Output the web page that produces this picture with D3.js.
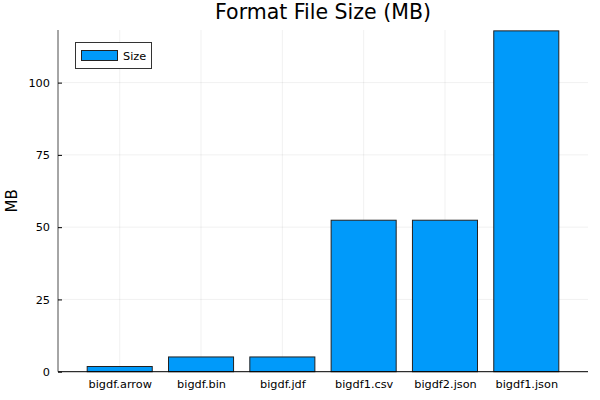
<!DOCTYPE html>
<html><head><meta charset="utf-8">
<script src="https://cdn.jsdelivr.net/npm/d3@7"></script>
<style>body{margin:0;background:#fff}svg{display:block}text{font-family:"DejaVu Sans",sans-serif}</style>
</head><body><svg id="c" width="600" height="400"></svg>
<script>
const categories = ["bigdf.arrow","bigdf.bin","bigdf.jdf","bigdf1.csv","bigdf2.json","bigdf1.json"];
const sizes = [1.8, 5.1, 5.1, 52.4, 52.4, 117.9];
const yTicks = [0, 25, 50, 75, 100];
const seriesName = "Size";
const title = "Format File Size (MB)";
const yLabel = "MB";

const svg = d3.select("#c");
const L = 58, R = 588, T = 30, B = 371.7;
const x = d3.scaleLinear().domain([0.241, 6.759]).range([L, R]);
const y = d3.scaleLinear().domain([0, 118.2]).range([B, T]);
const barW = 0.8;

// grid
const g = svg.append("g");
g.selectAll(".vg").data(categories).enter().append("line")
  .attr("x1",(d,i)=>x(i+1)).attr("x2",(d,i)=>x(i+1)).attr("y1",T).attr("y2",B)
  .attr("stroke","#000").attr("stroke-opacity",0.1).attr("stroke-width",0.6);
g.selectAll(".hg").data(yTicks).enter().append("line")
  .attr("x1",L).attr("x2",R).attr("y1",d=>y(d)).attr("y2",d=>y(d))
  .attr("stroke","#000").attr("stroke-opacity",0.1).attr("stroke-width",0.6);

// bars
svg.append("g").selectAll("rect").data(sizes).enter().append("rect")
  .attr("x",(d,i)=>x(i+1-barW/2)).attr("width",(d,i)=>x(i+1+barW/2)-x(i+1-barW/2))
  .attr("y",d=>y(d)).attr("height",d=>y(0)-y(d))
  .attr("fill","#009afa").attr("stroke","#222").attr("stroke-width",1);

// axes
const yAxis = d3.axisLeft(y).tickValues(yTicks).tickSize(-4).tickPadding(8);
const ya = svg.append("g").attr("transform",`translate(${L},0)`).call(yAxis);
ya.select(".domain").attr("stroke","#000").attr("stroke-opacity",0.7).attr("d",`M0,${T}V${B}`);
ya.selectAll(".tick line").attr("stroke","#000");
ya.selectAll("text").attr("font-size",11.3).attr("fill","#000").attr("font-family","DejaVu Sans");

const xAxis = d3.axisBottom(x).tickValues(categories.map((d,i)=>i+1)).tickFormat((d)=>categories[d-1]).tickSize(0).tickPadding(8);
const xa = svg.append("g").attr("transform",`translate(0,${B})`).call(xAxis);
xa.select(".domain").attr("stroke","#000").attr("d",`M${L},0H${R}`);
xa.selectAll("text").attr("font-size",11.3).attr("fill","#000").attr("font-family","DejaVu Sans");

// title
svg.append("text").attr("x",(L+R)/2).attr("y",19).attr("text-anchor","middle")
  .attr("font-size",20.5).attr("fill","#000").text(title);
// y label
svg.append("text").attr("transform",`translate(17,${(T+B)/2}) rotate(-90)`).attr("text-anchor","middle")
  .attr("font-size",15).attr("fill","#000").text(yLabel);

// legend
const lg = svg.append("g");
lg.append("rect").attr("x",75.5).attr("y",42.5).attr("width",76).attr("height",26)
  .attr("fill","#fff").attr("stroke","#000").attr("stroke-opacity",0.8);
lg.append("rect").attr("x",81.5).attr("y",50.5).attr("width",36).attr("height",10)
  .attr("fill","#009afa").attr("stroke","#222");
lg.append("text").attr("x",123).attr("y",59.5).attr("font-size",11.3).attr("fill","#000").text(seriesName);
</script></body></html>
